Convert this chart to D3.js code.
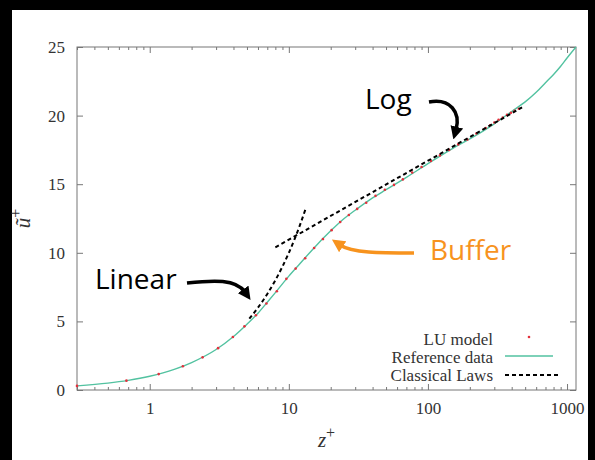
<!DOCTYPE html>
<html>
<head>
<meta charset="utf-8">
<script src="https://cdn.jsdelivr.net/npm/d3@7"></script>
<style>
  body { margin: 0; background: #000; }
  svg { display: block; }
</style>
</head>
<body>
<div id="container"></div>
<script>
var svgWidth = 595;
var svgHeight = 460;

// reference DNS profile (z+, u+)
var refZ = [0.3, 0.5, 0.7, 1, 1.5, 2, 3, 4, 5, 6, 7, 8, 10, 12, 15, 20, 25, 30, 40, 50, 70, 100, 150, 200, 300, 400, 500, 600, 700, 800, 900, 1000, 1160];
var refU = [0.3, 0.5, 0.7, 1.0, 1.5, 2.0, 2.95, 3.9, 4.8, 5.6, 6.4, 7.1, 8.3, 9.2, 10.3, 11.6, 12.5, 13.1, 14.0, 14.6, 15.5, 16.5, 17.6, 18.3, 19.4, 20.3, 21.0, 21.7, 22.4, 23.0, 23.6, 24.2, 25.0];

// LU model points
var luZ = [0.3, 0.68, 1.16, 1.73, 2.4, 3.1, 3.96, 4.8, 5.8, 6.9, 8.2, 9.6, 11.2, 13.1, 15.2, 17.6, 20.3, 23.4, 27, 31, 36, 42, 49, 57, 66, 77, 90, 105, 122, 142, 165, 192, 223, 260, 280, 300, 322, 345, 370, 395, 420, 450];
var luU = [0.3, 0.68, 1.16, 1.73, 2.38, 3.05, 3.86, 4.64, 5.45, 6.3, 7.2, 8.1, 8.85, 9.6, 10.35, 11.0, 11.65, 12.25, 12.75, 13.2, 13.65, 14.15, 14.6, 14.95, 15.35, 15.85, 16.25, 16.7, 17.1, 17.5, 17.9, 18.25, 18.7, 19.1, 19.3, 19.5, 19.7, 19.85, 20.05, 20.2, 20.35, 20.5];

// classical laws: linear (u = z) and log law
var linearZ = [5.2, 6, 7, 8, 9, 10, 11, 12, 13.2];
var linearU = [5.2, 6, 7, 8, 9, 10, 11, 12, 13.2];
var logZ = [8, 475];
var logU = [10.4, 20.6];

var xTicks = [1, 10, 100, 1000];
var yTicks = [0, 5, 10, 15, 20, 25];
var legendLabels = ['LU model', 'Reference data', 'Classical Laws'];

var green = '#52c2a0', red = '#e3303c';
var serif = '"Liberation Serif", "DejaVu Serif", serif';
var sans = '"Open Sans", "Noto Sans", sans-serif';

var plotLeft = 77, plotRight = 576, plotTop = 47, plotBottom = 390;

var svg = d3.select('#container').append('svg')
    .attr('width', svgWidth)
    .attr('height', svgHeight);

svg.append('rect').attr('width', svgWidth).attr('height', svgHeight).attr('fill', '#000');
svg.append('rect').attr('x', 12).attr('y', 10).attr('width', 576).attr('height', 450).attr('fill', '#fff');

var x = d3.scaleLog().domain([0.3, 1160]).range([plotLeft, plotRight]);
var y = d3.scaleLinear().domain([0, 25]).range([plotBottom, plotTop]);

var minorTicks = [];
[0.1, 1, 10, 100].forEach(function (d) {
    for (var k = 2; k <= 9; k++) {
        var v = d * k;
        if (v >= 0.3 && v <= 1160) minorTicks.push(v);
    }
});

function styleAxis(g) {
    g.select('.domain').remove();
    g.selectAll('line').attr('stroke', '#777');
    g.selectAll('text').attr('font-family', serif).attr('font-size', 17).attr('fill', '#333');
}

svg.append('g').attr('transform', 'translate(0,' + plotBottom + ')')
    .call(d3.axisBottom(x).tickValues(xTicks).tickSize(-6).tickPadding(12).tickFormat(d3.format('d')))
    .call(styleAxis);
svg.append('g').attr('transform', 'translate(0,' + plotBottom + ')')
    .call(d3.axisBottom(x).tickValues(minorTicks).tickSize(-3).tickFormat(''))
    .call(styleAxis);
svg.append('g').attr('transform', 'translate(0,' + plotTop + ')')
    .call(d3.axisTop(x).tickValues(xTicks).tickSize(-6).tickFormat(''))
    .call(styleAxis);
svg.append('g').attr('transform', 'translate(0,' + plotTop + ')')
    .call(d3.axisTop(x).tickValues(minorTicks).tickSize(-3).tickFormat(''))
    .call(styleAxis);
svg.append('g').attr('transform', 'translate(' + plotLeft + ',0)')
    .call(d3.axisLeft(y).tickValues(yTicks).tickSize(-6).tickPadding(12))
    .call(styleAxis);
svg.append('g').attr('transform', 'translate(' + plotRight + ',0)')
    .call(d3.axisRight(y).tickValues(yTicks).tickSize(-6).tickFormat(''))
    .call(styleAxis);

svg.append('rect')
    .attr('x', plotLeft).attr('y', plotTop)
    .attr('width', plotRight - plotLeft).attr('height', plotBottom - plotTop)
    .attr('fill', 'none').attr('stroke', '#777').attr('stroke-width', 1);

var line = d3.line()
    .x(function (d) { return x(d[0]); })
    .y(function (d) { return y(d[1]); })
    .curve(d3.curveMonotoneX);

var plot = svg.append('g');

plot.append('path')
    .datum(refZ.map(function (z, i) { return [z, refU[i]]; }))
    .attr('d', line)
    .attr('fill', 'none')
    .attr('stroke', green)
    .attr('stroke-width', 1.4);

plot.selectAll('.lu').data(luZ.map(function (z, i) { return [z, luU[i]]; }))
    .enter().append('circle')
    .attr('class', 'lu')
    .attr('cx', function (d) { return x(d[0]); })
    .attr('cy', function (d) { return y(d[1]); })
    .attr('r', 1.3)
    .attr('fill', red);

[[linearZ, linearU], [logZ, logU]].forEach(function (law) {
    plot.append('path')
        .datum(law[0].map(function (z, i) { return [z, law[1][i]]; }))
        .attr('d', line)
        .attr('fill', 'none')
        .attr('stroke', '#000')
        .attr('stroke-width', 2)
        .attr('stroke-dasharray', '4,3');
});

// axis titles
svg.append('text')
    .attr('x', (plotLeft + plotRight) / 2).attr('y', 447)
    .attr('text-anchor', 'middle')
    .attr('font-family', serif).attr('font-style', 'italic').attr('font-size', 21).attr('fill', '#333')
    .text('z')
    .append('tspan').attr('dy', -9).attr('font-size', 16).attr('font-style', 'normal').text('+');

svg.append('text')
    .attr('transform', 'translate(30,' + ((plotTop + plotBottom) / 2) + ') rotate(-90)')
    .attr('text-anchor', 'middle')
    .attr('font-family', serif).attr('font-style', 'italic').attr('font-size', 21).attr('fill', '#333')
    .text('u\u0303')
    .append('tspan').attr('dy', -9).attr('font-size', 16).attr('font-style', 'normal').text('+');

// legend
var legend = svg.append('g');
legendLabels.forEach(function (label, i) {
    var ly = 345 + i * 18;
    legend.append('text')
        .attr('x', 493).attr('y', ly)
        .attr('text-anchor', 'end')
        .attr('font-family', serif).attr('font-size', 17).attr('fill', '#333')
        .text(label);
});
legend.append('circle').attr('cx', 529).attr('cy', 337).attr('r', 1.3).attr('fill', red);
legend.append('line').attr('x1', 505).attr('x2', 553).attr('y1', 356).attr('y2', 356)
    .attr('stroke', green).attr('stroke-width', 1.4);
legend.append('line').attr('x1', 505).attr('x2', 560).attr('y1', 375).attr('y2', 375)
    .attr('stroke', '#000').attr('stroke-width', 2).attr('stroke-dasharray', '4,3');

// annotations
var defs = svg.append('defs');
['black', 'orange'].forEach(function (name) {
    defs.append('marker')
        .attr('id', 'head-' + name)
        .attr('markerUnits', 'userSpaceOnUse')
        .attr('viewBox', '0 0 12 12')
        .attr('refX', 3).attr('refY', 6)
        .attr('markerWidth', 13).attr('markerHeight', 13)
        .attr('orient', 'auto')
        .append('path')
        .attr('d', 'M0,0 L12,6 L0,12 Z')
        .attr('fill', name === 'black' ? '#000' : '#f7931e');
});

var notes = [
    {text: 'Linear', tx: 95, ty: 289, color: '#000', marker: 'black', d: 'M187,283 C214,280 236,279 245,292'},
    {text: 'Log', tx: 365, ty: 109, color: '#000', marker: 'black', d: 'M429,102 C450,98 461,112 456,130'},
    {text: 'Buffer', tx: 430, ty: 260, color: '#f7931e', marker: 'orange', d: 'M414,253 C380,253 352,253 340,245'}
];
notes.forEach(function (n) {
    svg.append('text')
        .attr('x', n.tx).attr('y', n.ty)
        .attr('font-family', sans).attr('font-size', 28).attr('fill', n.color)
        .text(n.text);
    svg.append('path')
        .attr('d', n.d)
        .attr('fill', 'none')
        .attr('stroke', n.color)
        .attr('stroke-width', 3.5)
        .attr('marker-end', 'url(#head-' + n.marker + ')');
});
</script>
</body>
</html>
